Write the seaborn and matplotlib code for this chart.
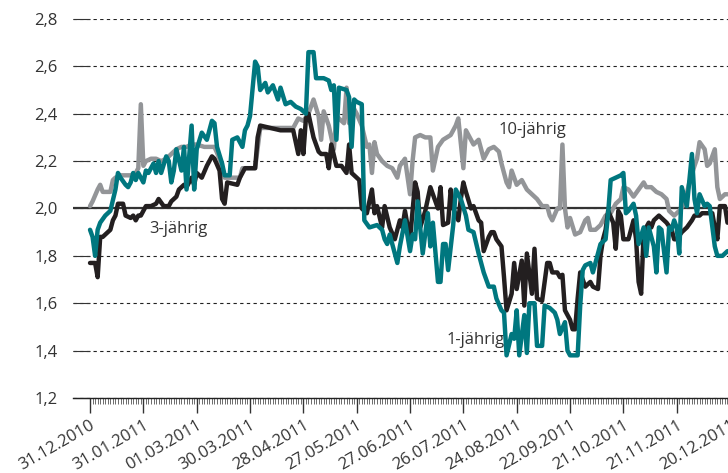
import matplotlib
matplotlib.use("Agg")
import matplotlib.pyplot as plt
from matplotlib.ticker import FixedLocator
import seaborn as sns

sns.set_style("white")
plt.rcParams['font.family'] = ['Open Sans', 'DejaVu Sans']

# x axis: business-day index, labelled every 21 days
tick_pos = [0, 21, 42, 63, 84, 105, 126, 147, 168, 189, 210, 231, 252]
tick_dates = ["31.12.2010", "31.01.2011", "01.03.2011", "30.03.2011", "28.04.2011",
              "27.05.2011", "27.06.2011", "26.07.2011", "24.08.2011", "22.09.2011",
              "21.10.2011", "21.11.2011", "20.12.2011"]
y_ticks = [1.2, 1.4, 1.6, 1.8, 2.0, 2.2, 2.4, 2.6, 2.8]

# 10-jährig
day_10 = [0, 1, 3, 4, 5, 8, 9, 10, 12, 16,
          18, 19, 20, 21, 22, 24, 26, 28, 30, 32,
          34, 36, 38, 40, 42, 45, 49, 51, 53, 59,
          60, 65, 67, 80, 82, 84, 86, 88, 90, 91,
          92, 94, 96, 97, 100, 101, 102, 103, 105, 107,
          109, 110, 111, 112, 113, 115, 117, 119, 121, 122,
          124, 126, 127, 128, 130, 132, 134, 135, 137, 139,
          142, 144, 145, 147, 148, 149, 151, 153, 155, 157,
          159, 161, 162, 164, 165, 166, 168, 170, 172, 174,
          176, 178, 180, 181, 182, 184, 185, 186, 187, 188,
          189, 191, 193, 195, 196, 197, 199, 201, 203, 205,
          207, 209, 210, 212, 214, 216, 218, 219, 221, 223,
          225, 227, 228, 230, 232, 234, 236, 238, 239, 240,
          242, 243, 244, 246, 247, 248, 250, 251]
rate_10 = [2.01, 2.03, 2.08, 2.10, 2.07, 2.07, 2.12, 2.13, 2.14, 2.14,
           2.15, 2.17, 2.44, 2.18, 2.20, 2.21, 2.21, 2.20, 2.21, 2.23,
           2.25, 2.26, 2.26, 2.27, 2.27, 2.26, 2.26, 2.21, 2.13, 2.13,
           2.17, 2.17, 2.34, 2.34, 2.38, 2.37, 2.40, 2.46, 2.39, 2.29,
           2.41, 2.35, 2.25, 2.39, 2.36, 2.51, 2.36, 2.44, 2.40, 2.35,
           2.26, 2.27, 2.15, 2.28, 2.23, 2.20, 2.18, 2.17, 2.13, 2.18,
           2.21, 2.06, 2.20, 2.30, 2.31, 2.30, 2.30, 2.16, 2.26, 2.29,
           2.31, 2.35, 2.38, 2.17, 2.33, 2.31, 2.27, 2.29, 2.21, 2.25,
           2.26, 2.24, 2.19, 2.11, 2.09, 2.16, 2.10, 2.12, 2.08, 2.06,
           2.04, 2.01, 2.01, 1.97, 1.95, 2.00, 2.00, 2.27, 2.00, 1.92,
           1.96, 1.89, 1.90, 1.95, 1.96, 1.91, 1.91, 1.93, 1.97, 1.98,
           2.02, 2.04, 2.09, 2.08, 2.05, 2.08, 2.11, 2.09, 2.09, 2.07,
           2.06, 2.04, 1.99, 1.97, 1.99, 2.02, 2.11, 2.18, 2.21, 2.28,
           2.25, 2.18, 2.19, 2.25, 2.09, 2.04, 2.06, 2.06]

# 3-jährig
day_3 = [0, 2, 3, 4, 5, 6, 8, 9, 10, 11,
         13, 14, 16, 17, 18, 19, 20, 22, 23, 24,
         26, 27, 29, 31, 32, 34, 35, 37, 38, 39,
         40, 41, 42, 44, 46, 48, 49, 51, 52, 53,
         54, 58, 59, 61, 65, 66, 67, 71, 75, 80,
         82, 83, 84, 85, 86, 88, 90, 91, 93, 94,
         95, 97, 99, 101, 102, 103, 105, 106, 107, 109,
         111, 112, 113, 115, 116, 118, 120, 122, 123, 124,
         126, 128, 129, 130, 132, 134, 135, 137, 138, 139,
         141, 142, 143, 145, 146, 147, 148, 150, 151, 153,
         154, 155, 157, 158, 159, 160, 162, 163, 164, 166,
         167, 168, 170, 171, 172, 174, 175, 176, 178, 180,
         181, 182, 184, 185, 186, 187, 189, 190, 191, 192,
         193, 195, 197, 198, 200, 201, 202, 203, 204, 206,
         207, 208, 209, 210, 212, 214, 215, 216, 217, 218,
         220, 221, 222, 224, 226, 227, 229, 230, 231, 233,
         235, 237, 238, 240, 241, 243, 245, 246, 247, 248,
         250, 251]
rate_3 = [1.77, 1.77, 1.71, 1.88, 1.88, 1.89, 1.91, 1.95, 1.97, 2.02,
          2.02, 1.97, 1.96, 1.97, 1.95, 1.97, 1.97, 2.01, 2.01, 2.01,
          2.02, 2.04, 2.01, 2.01, 2.03, 2.05, 2.08, 2.10, 2.09, 2.11,
          2.13, 2.10, 2.15, 2.13, 2.18, 2.22, 2.21, 2.16, 2.04, 2.02,
          2.11, 2.10, 2.13, 2.17, 2.17, 2.30, 2.35, 2.34, 2.33, 2.33,
          2.23, 2.33, 2.23, 2.38, 2.40, 2.30, 2.24, 2.23, 2.23, 2.17,
          2.27, 2.18, 2.18, 2.15, 2.27, 2.15, 2.13, 2.12, 2.00, 1.98,
          2.08, 1.98, 2.01, 1.92, 2.01, 1.92, 1.87, 1.95, 1.92, 1.99,
          1.87, 2.11, 2.07, 1.92, 1.99, 2.09, 2.06, 2.00, 2.09, 1.93,
          1.94, 2.08, 2.00, 1.95, 2.04, 2.11, 2.07, 2.00, 2.01, 1.95,
          1.94, 1.82, 1.88, 1.90, 1.90, 1.87, 1.84, 1.71, 1.57, 1.64,
          1.77, 1.66, 1.78, 1.59, 1.81, 1.64, 1.83, 1.62, 1.61, 1.77,
          1.77, 1.73, 1.73, 1.71, 1.72, 1.57, 1.53, 1.49, 1.49, 1.62,
          1.73, 1.67, 1.69, 1.67, 1.66, 1.80, 1.87, 1.91, 1.99, 1.94,
          1.83, 1.99, 1.97, 1.87, 1.87, 1.95, 1.87, 1.69, 1.64, 1.90,
          1.94, 1.92, 1.95, 1.97, 1.95, 1.94, 1.91, 1.87, 1.87, 1.90,
          1.92, 1.95, 1.97, 1.97, 1.98, 1.98, 1.98, 1.92, 1.87, 2.01,
          2.01, 1.94]

# 1-jährig
day_1 = [0, 1, 2, 3, 4, 6, 7, 8, 10, 11,
         12, 14, 15, 16, 17, 18, 19, 21, 22, 23,
         25, 26, 27, 28, 30, 31, 32, 33, 34, 36,
         37, 38, 40, 41, 42, 44, 46, 48, 49, 50,
         52, 53, 55, 56, 58, 60, 61, 62, 63, 65,
         66, 67, 69, 70, 72, 74, 75, 77, 79, 81,
         83, 85, 86, 88, 89, 92, 94, 95, 96, 97,
         98, 101, 102, 103, 104, 105, 107, 108, 110, 113,
         115, 116, 117, 118, 120, 121, 122, 124, 126, 127,
         128, 129, 131, 133, 134, 135, 137, 138, 139, 140,
         141, 143, 144, 146, 148, 149, 151, 153, 155, 157,
         159, 160, 162, 163, 164, 166, 167, 168, 169, 171,
         172, 173, 175, 176, 178, 179, 181, 183, 184, 185,
         187, 188, 189, 191, 192, 193, 194, 195, 197, 198,
         199, 201, 203, 204, 205, 207, 209, 210, 211, 212,
         214, 215, 216, 218, 219, 220, 222, 223, 224, 225,
         227, 228, 229, 230, 231, 232, 233, 235, 236, 237,
         238, 239, 240, 242, 243, 244, 246, 247, 249, 251]
rate_1 = [1.91, 1.88, 1.80, 1.91, 1.94, 1.97, 1.98, 1.99, 2.08, 2.15,
          2.13, 2.10, 2.09, 2.11, 2.15, 2.12, 2.15, 2.11, 2.16, 2.15,
          2.19, 2.15, 2.20, 2.15, 2.22, 2.20, 2.11, 2.16, 2.25, 2.16,
          2.26, 2.08, 2.35, 2.08, 2.25, 2.32, 2.29, 2.37, 2.36, 2.26,
          2.19, 2.14, 2.14, 2.29, 2.30, 2.26, 2.33, 2.35, 2.39, 2.62,
          2.60, 2.50, 2.53, 2.49, 2.52, 2.46, 2.51, 2.44, 2.45, 2.43,
          2.42, 2.40, 2.66, 2.66, 2.55, 2.55, 2.54, 2.50, 2.52, 2.29,
          2.51, 2.50, 2.47, 2.26, 2.46, 2.45, 2.44, 1.95, 1.92, 1.93,
          1.91, 1.87, 1.85, 1.89, 1.81, 1.77, 1.84, 1.95, 1.82, 1.89,
          1.87, 2.03, 1.81, 1.98, 1.84, 1.94, 1.69, 1.69, 1.85, 1.85,
          1.74, 1.93, 2.08, 2.04, 1.97, 1.91, 1.90, 1.81, 1.73, 1.67,
          1.67, 1.62, 1.57, 1.56, 1.38, 1.47, 1.45, 1.57, 1.38, 1.55,
          1.39, 1.60, 1.60, 1.42, 1.42, 1.59, 1.58, 1.56, 1.53, 1.47,
          1.52, 1.40, 1.38, 1.38, 1.38, 1.59, 1.74, 1.76, 1.77, 1.73,
          1.77, 1.85, 1.87, 1.98, 2.12, 2.13, 2.14, 2.15, 1.98, 1.99,
          2.02, 1.97, 1.85, 1.92, 1.80, 1.92, 1.84, 1.73, 1.92, 1.91,
          1.73, 1.92, 1.91, 1.95, 1.92, 1.81, 2.09, 2.01, 2.12, 2.23,
          2.04, 1.98, 2.06, 2.01, 2.02, 2.01, 1.84, 1.80, 1.80, 1.82]

c_gray = "#939598"
c_black = "#231f20"
c_teal = "#00777f"
c_text = "#333333"

fig = plt.figure(figsize=(7.28, 4.73), dpi=100)
ax = fig.add_axes([0.1003, 0.1586, 0.9025, 0.8013])

sns.lineplot(x=day_10, y=rate_10, ax=ax, color=c_gray, lw=3.2, zorder=3)
sns.lineplot(x=day_3, y=rate_3, ax=ax, color=c_black, lw=3.2, zorder=4)
sns.lineplot(x=day_1, y=rate_1, ax=ax, color=c_teal, lw=3.2, zorder=5)

ax.set_xlim(-6.7, 252)
ax.set_ylim(1.2, 2.8)

# grid: dashed, except the solid 2,0 line
ax.set_yticks(y_ticks)
ax.set_yticklabels([f"{v:.1f}".replace(".", ",") for v in y_ticks])
ax.yaxis.grid(True, linestyle=(0, (3, 3)), color="#222222", linewidth=0.8)
ax.xaxis.grid(False)
ax.axhline(2.0, color="#333333", lw=1.6, zorder=2)
ax.set_axisbelow(True)

ax.set_xticks(tick_pos)
ax.set_xticklabels(tick_dates, rotation=30, ha="right", rotation_mode="anchor")
ax.xaxis.set_minor_locator(FixedLocator(list(range(0, 253))))

for s in ["left", "top", "right"]:
    ax.spines[s].set_visible(False)
ax.spines["bottom"].set_color("#222222")
ax.spines["bottom"].set_linewidth(1.0)

ax.tick_params(axis="y", direction="in", length=12.2, width=0.8, color="#333333",
               pad=11, labelsize=12, labelcolor=c_text, left=True)
ax.tick_params(axis="x", which="major", direction="out", length=10.8, width=1.0,
               color="#333333", pad=3, labelsize=12, labelcolor=c_text, bottom=True)
ax.tick_params(axis="x", which="minor", direction="out", length=4.5, width=0.6,
               color="#555555", bottom=True)

ax.text(161, 2.33, "10-jährig", fontsize=12, color=c_text, va="center")
ax.text(23.3, 1.913, "3-jährig", fontsize=12, color=c_text, va="center")
ax.text(140.3, 1.445, "1-jährig", fontsize=12, color=c_text, va="center")

ax.set_xlabel("")
ax.set_ylabel("")

fig.savefig("out.png", dpi=100)
